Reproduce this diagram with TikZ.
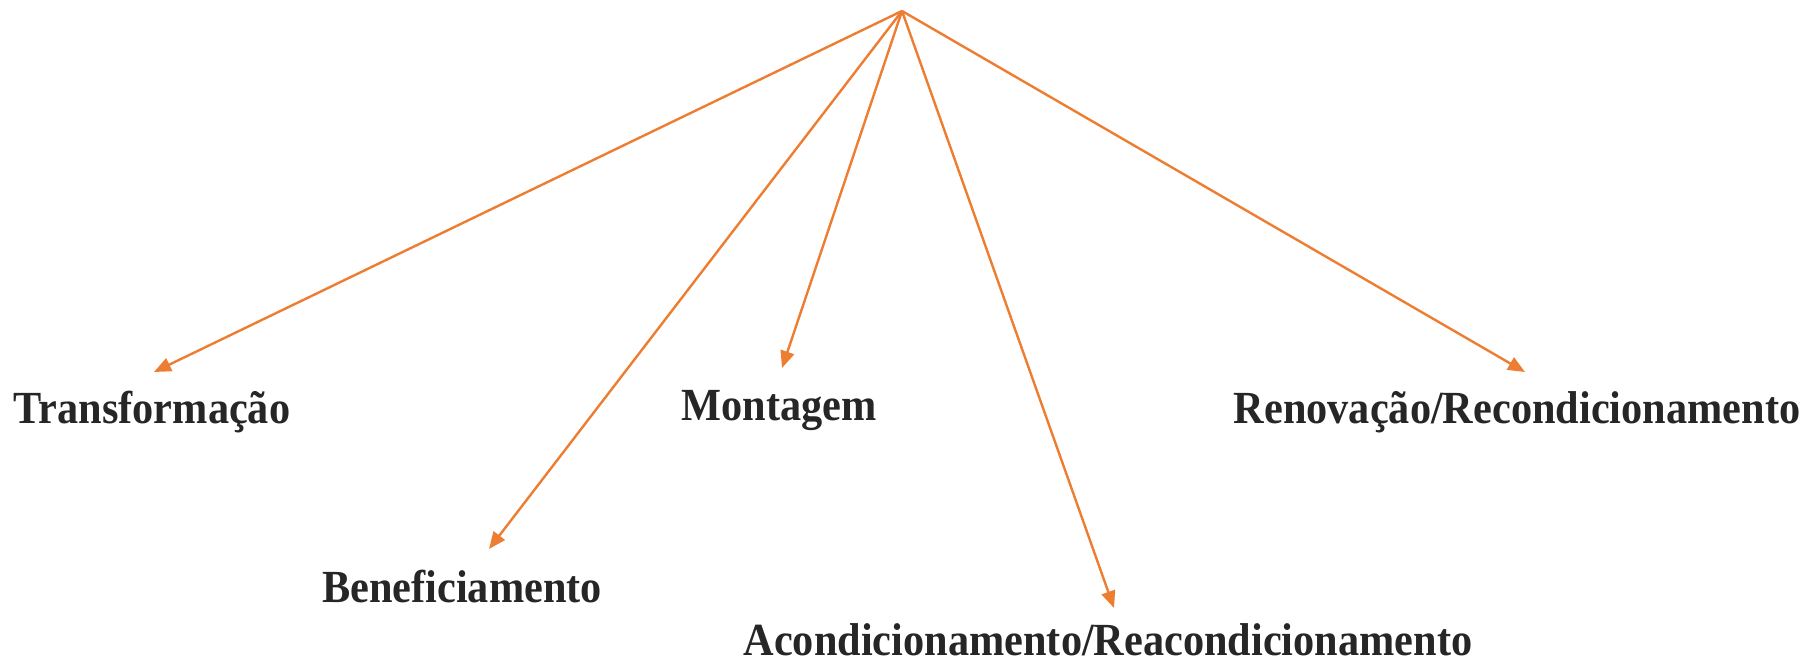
\documentclass[tikz,border=0pt]{standalone}
\usepackage{fontspec}
\setmainfont{Liberation Serif}
\usetikzlibrary{arrows.meta}
\definecolor{arrorange}{HTML}{ED7D31}
\definecolor{labelgray}{HTML}{262626}
\tikzset{
  conn/.style={draw=arrorange, line width=2.4pt, -{Triangle[length=17pt,width=14pt]}},
  lbl/.style={anchor=base, inner sep=0pt, text=labelgray, font=\fontsize{46}{55}\selectfont\bfseries}
}
\newcommand{\sq}[1]{\scalebox{0.92}[1]{#1}}
\begin{document}
\begin{tikzpicture}[x=1pt,y=-1pt]
\useasboundingbox (0,0) rectangle (1806,662);
\coordinate (apex) at (902,11);
\node[lbl] (trans) at (152,423) {\sq{Transformação}};
\node[lbl] (bene) at (462,602) {\sq{Beneficiamento}};
\node[lbl] (mont) at (779,420) {\sq{Montagem}};
\node[lbl] (acon) at (1108,655) {\sq{Acondicionamento/Reacondicionamento}};
\node[lbl] (reno) at (1517,423) {\sq{Renovação/Recondicionamento}};
\coordinate (tTrans) at (154,372);
\coordinate (tBene) at (489,549);
\coordinate (tMont) at (782,368);
\coordinate (tAcon) at (1114,608);
\coordinate (tReno) at (1525,372);
\draw[conn] (apex) -- (tTrans);
\draw[conn] (apex) -- (tBene);
\draw[conn] (apex) -- (tMont);
\draw[conn] (apex) -- (tAcon);
\draw[conn] (apex) -- (tReno);
\end{tikzpicture}
\end{document}
